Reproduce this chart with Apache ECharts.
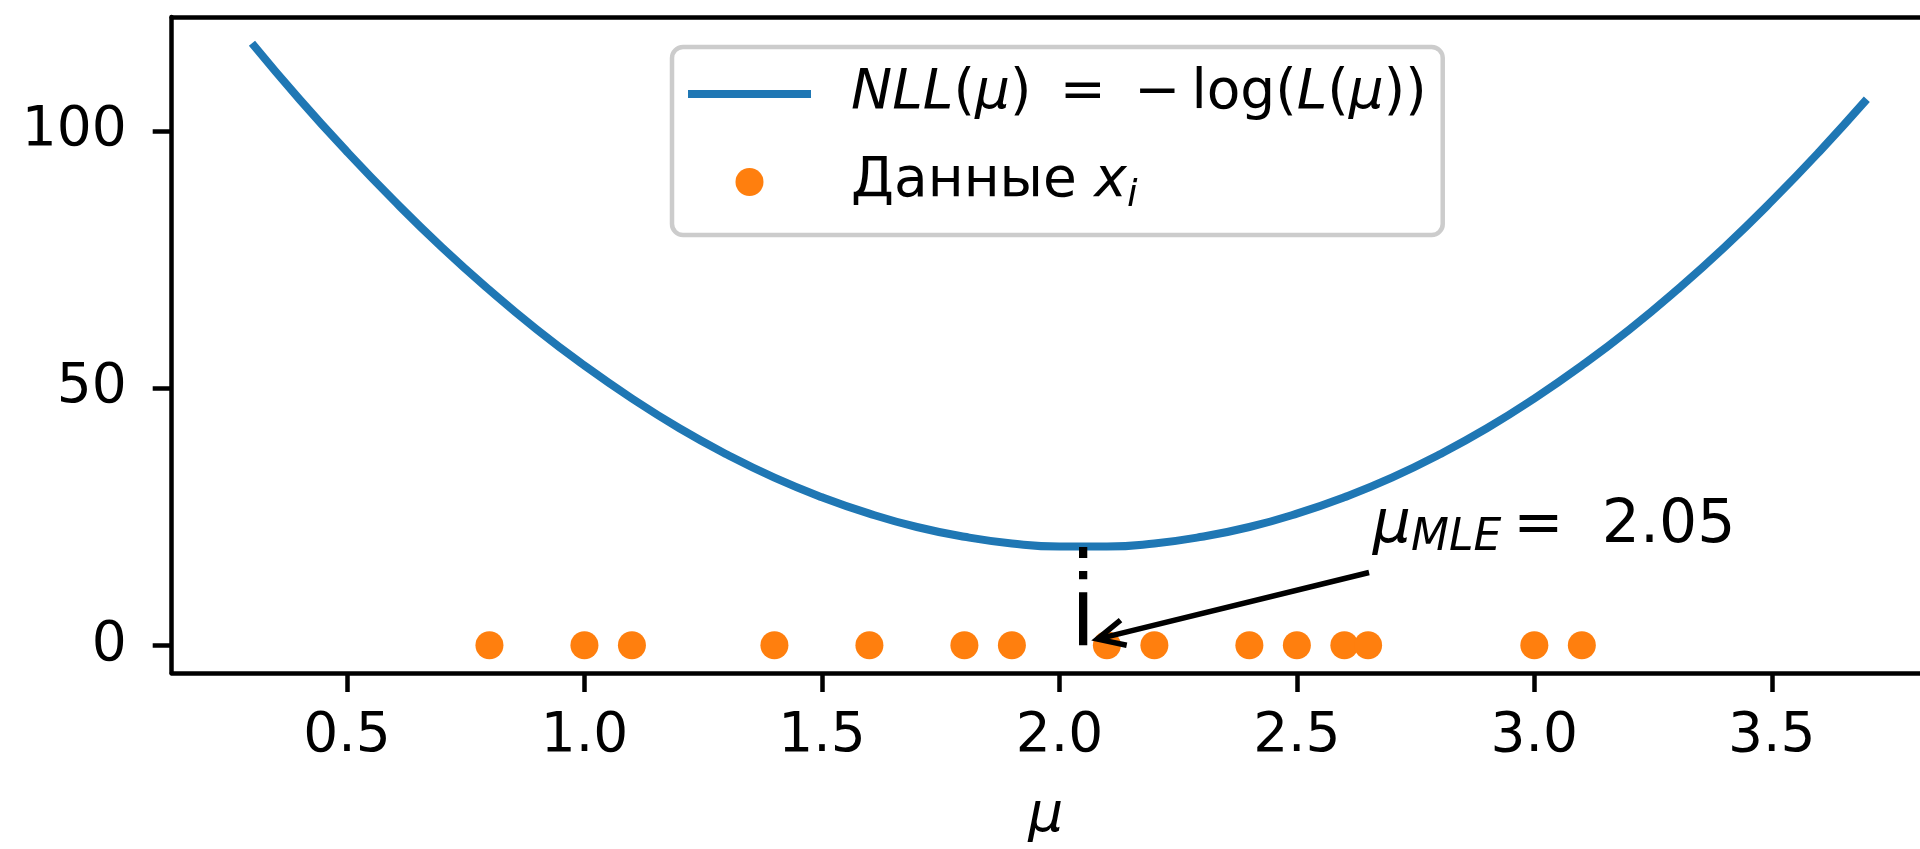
<!DOCTYPE html>
<html>
<head>
<meta charset="utf-8">
<script src="https://cdn.jsdelivr.net/npm/echarts@6/dist/echarts.min.js"></script>
<style>
  html, body { margin: 0; padding: 0; background: #ffffff; }
  #chart { width: 1920px; height: 849px; }
</style>
</head>
<body>
<div id="chart"></div>
<script>
// ---- Data ----
const MU_GRID = [0.3, 0.4, 0.5, 0.6, 0.7, 0.8, 0.9, 1.0, 1.1, 1.2, 1.3, 1.4, 1.5, 1.6, 1.7, 1.8, 1.9, 2.0,
                 2.1, 2.2, 2.3, 2.4, 2.5, 2.6, 2.7, 2.8, 2.9, 3.0, 3.1, 3.2, 3.3, 3.4, 3.5, 3.6, 3.7];
const NLL_VALUES = [117.1, 106.2, 96.0, 86.4, 77.4, 69.1, 61.4, 54.4, 48.0, 42.2, 37.1, 32.6, 28.8, 25.6, 23.0, 21.1, 19.8, 19.2,
                    19.2, 19.8, 21.1, 23.0, 25.6, 28.8, 32.6, 37.1, 42.2, 48.0, 54.4, 61.4, 69.1, 77.4, 86.4, 96.0, 106.2];
const DATA_XI = [0.8, 1.0, 1.1, 1.4, 1.6, 1.8, 1.9, 2.1, 2.2, 2.4, 2.5, 2.6, 2.65, 3.0, 3.1];
const MU_MLE = 2.05;
const NLL_MIN = 19.1;
const ANNOT_TEXT_POS = [2.66, 19.3];
const ARROW_FROM = [2.652, 14.15];
const ARROW_TO = [2.08, 1.2];
const X_TICKS = [0.5, 1.0, 1.5, 2.0, 2.5, 3.0, 3.5];
const Y_TICKS = [0, 50, 100];
const X_RANGE = [0.131, 3.812];
const Y_RANGE = [-5.4, 122.2];

const SERIES_CURVE = 'NLL';
const SERIES_DATA = 'Данные';

// ---- Build chart ----
const FONT = 'DejaVu Sans';
const chart = echarts.init(document.getElementById('chart'), null, { renderer: 'canvas' });

const curveData = MU_GRID.map((m, i) => [m, NLL_VALUES[i]]);
const pointData = DATA_XI.map(x => [x, 0]);

const axisLineStyle = { color: '#000', width: 4.5 };

const option = {
  animation: false,
  backgroundColor: '#ffffff',
  grid: { left: 171.7, right: 0, top: 17, bottom: 171, containLabel: false },
  xAxis: [{
    type: 'value',
    min: X_RANGE[0], max: X_RANGE[1],
    position: 'bottom',
    splitLine: { show: false },
    axisLine: { show: true, onZero: false, lineStyle: axisLineStyle },
    axisTick: { show: true, length: 19, lineStyle: { color: '#000', width: 4.5 }, customValues: X_TICKS },
    axisLabel: {
      customValues: X_TICKS, margin: 36,
      fontFamily: FONT, fontSize: 55, color: '#000',
      formatter: v => Number(v).toFixed(1)
    },
    name: 'μ', nameLocation: 'middle', nameGap: 116,
    nameTextStyle: { fontFamily: FONT, fontSize: 55, fontStyle: 'italic', color: '#000' }
  }, {
    type: 'value',
    min: X_RANGE[0], max: X_RANGE[1],
    position: 'top',
    splitLine: { show: false },
    axisLine: { show: true, onZero: false, lineStyle: axisLineStyle },
    axisTick: { show: false },
    axisLabel: { show: false }
  }],
  yAxis: {
    type: 'value',
    min: Y_RANGE[0], max: Y_RANGE[1],
    splitLine: { show: false },
    axisLine: { show: true, onZero: false, lineStyle: axisLineStyle },
    axisTick: { show: true, length: 19, lineStyle: { color: '#000', width: 4.5 }, customValues: Y_TICKS },
    axisLabel: {
      customValues: Y_TICKS, margin: 45,
      fontFamily: FONT, fontSize: 55, color: '#000',
      formatter: v => String(Math.round(v))
    }
  },
  legend: {
    data: [
      { name: SERIES_CURVE, icon: 'path://M0,0 L100,0 L100,6.5 L0,6.5 Z', itemStyle: { color: '#1f77b4' } },
      { name: SERIES_DATA, icon: 'circle' }
    ],
    orient: 'vertical',
    left: 672, top: 47,
    padding: [14, 16, 20, 16],
    itemGap: 22,
    itemWidth: 123, itemHeight: 28,
    backgroundColor: 'rgba(255,255,255,0.8)',
    borderColor: '#cccccc', borderWidth: 4.5, borderRadius: 11,
    selectedMode: false,
    formatter: function (name) {
      if (name === SERIES_CURVE) {
        return '{i|NLL}(' + '{i|μ})\u2009 = \u2009−\u2009log(' + '{i|L}(' + '{i|μ}))';
      }
      return 'Данные {i|x}{s|i}';
    },
    textStyle: {
      fontFamily: FONT, fontSize: 55, color: '#000', lineHeight: 66,
      width: 575, padding: [0, 0, 0, 35],
      rich: {
        i: { fontFamily: FONT, fontSize: 55, fontStyle: 'italic', color: '#000', lineHeight: 66 },
        s: { fontFamily: FONT, fontSize: 38, fontStyle: 'italic', color: '#000', lineHeight: 38, verticalAlign: 'bottom' }
      }
    }
  },
  series: [
    {
      name: SERIES_CURVE,
      type: 'line',
      data: curveData,
      smooth: true,
      symbol: 'none',
      showSymbol: false,
      lineStyle: { color: '#1f77b4', width: 8 },
      itemStyle: { color: '#1f77b4' },
      z: 2
    },
    {
      name: 'mle-line',
      type: 'line',
      data: [[MU_MLE, 0], [MU_MLE, NLL_MIN]],
      symbol: 'none',
      showSymbol: false,
      lineStyle: { color: '#000', width: 8.3, type: [53, 13, 8.3, 13], cap: 'butt' },
      z: 3
    },
    {
      name: SERIES_DATA,
      type: 'scatter',
      data: pointData,
      symbol: 'circle',
      symbolSize: 28,
      itemStyle: { color: '#ff7f0e', opacity: 1 },
      z: 4
    },
    {
      name: 'arrow',
      type: 'custom',
      data: [[ARROW_FROM[0], ARROW_FROM[1], ARROW_TO[0], ARROW_TO[1]]],
      encode: { x: [0, 2], y: [1, 3] },
      clip: false,
      z: 5,
      renderItem: function (params, api) {
        const a = api.coord([api.value(0), api.value(1)]);
        const b = api.coord([api.value(2), api.value(3)]);
        const ang = Math.atan2(a[1] - b[1], a[0] - b[0]);
        const hl = 27, hw = 13;
        const bx = b[0] + Math.cos(ang) * hl, by = b[1] + Math.sin(ang) * hl;
        const px = -Math.sin(ang) * hw, py = Math.cos(ang) * hw;
        return {
          type: 'group',
          children: [
            { type: 'line', shape: { x1: a[0], y1: a[1], x2: b[0], y2: b[1] },
              style: { stroke: '#000', lineWidth: 5.5, lineCap: 'butt' } },
            { type: 'polyline', shape: { points: [[bx + px, by + py], [b[0], b[1]], [bx - px, by - py]] },
              style: { stroke: '#000', lineWidth: 5.5, fill: null, lineJoin: 'miter' } }
          ]
        };
      }
    },
    {
      name: 'annot',
      type: 'custom',
      data: [[ANNOT_TEXT_POS[0], ANNOT_TEXT_POS[1]]],
      encode: { x: 0, y: 1 },
      clip: false,
      z: 6,
      renderItem: function (params, api) {
        const p = api.coord([api.value(0), api.value(1)]);
        return {
          type: 'text',
          x: p[0], y: p[1] + 15,
          style: {
            text: '{m|μ}{s|MLE}{r|\u2009=  ' + MU_MLE.toFixed(2) + '}',
            align: 'left', verticalAlign: 'bottom',
            fill: '#000',
            rich: {
              m: { fontFamily: FONT, fontSize: 60, fontStyle: 'italic', lineHeight: 70, fill: '#000' },
              s: { fontFamily: FONT, fontSize: 44, fontStyle: 'italic', lineHeight: 49, verticalAlign: 'bottom', fill: '#000' },
              r: { fontFamily: FONT, fontSize: 60, lineHeight: 70, fill: '#000' }
            }
          }
        };
      }
    }
  ]
};
chart.setOption(option);
</script>
</body>
</html>
